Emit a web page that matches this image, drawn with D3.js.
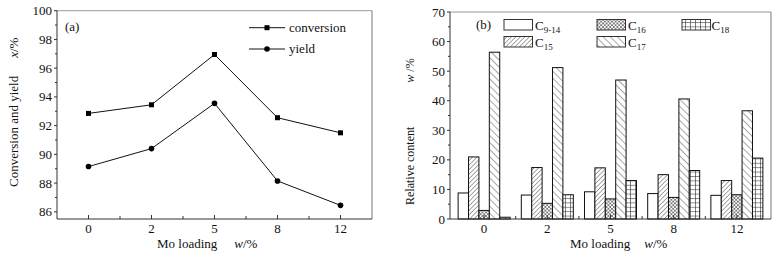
<!DOCTYPE html>
<html>
<head>
<meta charset="utf-8">
<script src="https://cdn.jsdelivr.net/npm/d3@7"></script>
<style>
  body { margin: 0; background: #fff; }
  svg text { font-family: "Liberation Serif", "Times New Roman", serif; fill: #111; }
</style>
</head>
<body>
<svg id="chart" width="777" height="260"></svg>
<script>
// panel (a) data
var loadings = ["0", "2", "5", "8", "12"];
var conversion = [92.85, 93.45, 96.95, 92.55, 91.5];
var yieldVals = [89.15, 90.4, 93.55, 88.15, 86.45];
var yTicksA = [86, 88, 90, 92, 94, 96, 98, 100];

// panel (b) data
var fractions = ["C9-14", "C15", "C16", "C17", "C18"];
var c914 = [8.8, 8.1, 9.2, 8.6, 8.0];
var c15 = [21.0, 17.4, 17.3, 15.0, 13.0];
var c16 = [2.9, 5.3, 6.8, 7.3, 8.2];
var c17 = [56.4, 51.2, 47.0, 40.6, 36.6];
var c18 = [0.6, 8.2, 13.0, 16.4, 20.6];
var yTicksB = [0, 10, 20, 30, 40, 50, 60, 70];

var svg = d3.select("#chart");
var defs = svg.append("defs");

// fill patterns for the bars
function linePattern(id, size, angle, w) {
  var p = defs.append("pattern")
    .attr("id", id)
    .attr("patternUnits", "userSpaceOnUse")
    .attr("width", size).attr("height", size)
    .attr("patternTransform", "rotate(" + angle + ")");
  p.append("rect").attr("width", size).attr("height", size).attr("fill", "#fff");
  p.append("line")
    .attr("x1", 0).attr("y1", 0).attr("x2", 0).attr("y2", size)
    .attr("stroke", "#222").attr("stroke-width", w);
}
linePattern("p15", 3.2, 45, 0.8);
linePattern("p17", 5, -45, 0.8);

var cross = defs.append("pattern")
  .attr("id", "p16")
  .attr("patternUnits", "userSpaceOnUse")
  .attr("width", 3.6).attr("height", 3.6);
cross.append("rect").attr("width", 3.6).attr("height", 3.6).attr("fill", "#fff");
cross.append("path").attr("d", "M0,0L3.6,3.6M3.6,0L0,3.6")
  .attr("stroke", "#333").attr("stroke-width", 0.6);

var grid = defs.append("pattern")
  .attr("id", "p18")
  .attr("patternUnits", "userSpaceOnUse")
  .attr("width", 5).attr("height", 4.4);
grid.append("rect").attr("width", 5).attr("height", 4.4).attr("fill", "#fff");
grid.append("path").attr("d", "M0.5,0V4.4M0,0.5H5")
  .attr("stroke", "#333").attr("stroke-width", 0.6);

var fills = {
  "C9-14": "#fff",
  "C15": "url(#p15)",
  "C16": "url(#p16)",
  "C17": "url(#p17)",
  "C18": "url(#p18)"
};

function frame(g, x0, x1, y0, y1) {
  g.append("line").attr("x1", x0).attr("x2", x1).attr("y1", y0).attr("y2", y0)
    .attr("stroke", "#999");
  g.append("line").attr("x1", x1).attr("x2", x1).attr("y1", y0).attr("y2", y1)
    .attr("stroke", "#777");
}

function axes(g, x, y, yTicks, yMinor, ox, oy) {
  var xr = x.range(), yr = y.range();
  // x axis with inward ticks
  g.append("line").attr("x1", xr[0]).attr("x2", xr[1]).attr("y1", oy).attr("y2", oy)
    .attr("stroke", "#333");
  var xt = g.append("g");
  loadings.forEach(function(l, i) {
    xt.append("line").attr("x1", x(i)).attr("x2", x(i)).attr("y1", oy).attr("y2", oy - 4)
      .attr("stroke", "#333");
    xt.append("text").attr("x", x(i)).attr("y", oy + 14)
      .attr("text-anchor", "middle").attr("font-size", 13).text(l);
    if (i < loadings.length - 1)
      xt.append("line").attr("x1", x(i + 0.5)).attr("x2", x(i + 0.5))
        .attr("y1", oy).attr("y2", oy - 3).attr("stroke", "#333");
  });
  // y axis with outward ticks
  g.append("line").attr("x1", ox).attr("x2", ox).attr("y1", yr[0]).attr("y2", yr[1])
    .attr("stroke", "#333");
  yTicks.forEach(function(t) {
    g.append("line").attr("x1", ox - 3).attr("x2", ox).attr("y1", y(t)).attr("y2", y(t))
      .attr("stroke", "#333");
    g.append("text").attr("x", ox - 5).attr("y", y(t) + 4.5)
      .attr("text-anchor", "end").attr("font-size", 13).text(t);
  });
  yMinor.forEach(function(t) {
    g.append("line").attr("x1", ox - 2).attr("x2", ox).attr("y1", y(t)).attr("y2", y(t))
      .attr("stroke", "#333");
  });
}

// ---------- panel (a)
var ga = svg.append("g");
var xA = d3.scaleLinear().domain([-0.5, 4.5]).range([57, 372]);
var yA = d3.scaleLinear().domain([85.5, 100]).range([219, 10.7]);
frame(ga, 57, 372, 10.7, 219);
axes(ga, xA, yA, yTicksA, [87, 89, 91, 93, 95, 97, 99], 57, 219);

var lineA = d3.line().x(function(d, i) { return xA(i); }).y(function(d) { return yA(d); });
ga.append("path").attr("d", lineA(conversion)).attr("fill", "none").attr("stroke", "#111");
ga.append("path").attr("d", lineA(yieldVals)).attr("fill", "none").attr("stroke", "#111");
ga.selectAll(".sq").data(conversion).enter().append("rect")
  .attr("x", function(d, i) { return xA(i) - 2.5; })
  .attr("y", function(d) { return yA(d) - 2.5; })
  .attr("width", 5).attr("height", 5).attr("fill", "#000");
ga.selectAll(".ci").data(yieldVals).enter().append("circle")
  .attr("cx", function(d, i) { return xA(i); })
  .attr("cy", function(d) { return yA(d); })
  .attr("r", 2.8).attr("fill", "#000");

ga.append("text").attr("x", 65).attr("y", 31).attr("font-size", 13).text("(a)");
// legend (a)
[["conversion", 27.7, "sq"], ["yield", 49, "ci"]].forEach(function(e) {
  ga.append("line").attr("x1", 249).attr("x2", 285).attr("y1", e[1]).attr("y2", e[1])
    .attr("stroke", "#111");
  if (e[2] == "sq")
    ga.append("rect").attr("x", 264.5).attr("y", e[1] - 2.5).attr("width", 5).attr("height", 5);
  else
    ga.append("circle").attr("cx", 267).attr("cy", e[1]).attr("r", 2.8);
  ga.append("text").attr("x", 289).attr("y", e[1] + 4).attr("font-size", 13).text(e[0]);
});

ga.append("text")
  .attr("transform", "translate(18,187) rotate(-90)")
  .attr("font-size", 13)
  .call(function(t) {
    t.append("tspan").text("Conversion and yield");
    t.append("tspan").attr("dx", 18).attr("font-style", "italic").text("x");
    t.append("tspan").text("/%");
  });
ga.append("text").attr("x", 157).attr("y", 248).attr("font-size", 13)
  .call(function(t) {
    t.append("tspan").text("Mo loading");
    t.append("tspan").attr("dx", 17).attr("font-style", "italic").text("w");
    t.append("tspan").text("/%");
  });

// ---------- panel (b)
var gb = svg.append("g");
var xB = d3.scaleLinear().domain([-0.54, 4.54]).range([450, 771]);
var yB = d3.scaleLinear().domain([0, 70]).range([219, 12]);
var sub = d3.scaleBand().domain(fractions).range([-26, 26]);
frame(gb, 450, 771, 12, 219);

var seriesB = [c914, c15, c16, c17, c18];
fractions.forEach(function(f, k) {
  gb.selectAll(".b" + k).data(seriesB[k]).enter().append("rect")
    .attr("x", function(d, i) { return xB(i) + sub(f); })
    .attr("y", function(d) { return yB(d); })
    .attr("width", sub.bandwidth())
    .attr("height", function(d) { return yB(0) - yB(d); })
    .attr("fill", fills[f])
    .attr("stroke", "#111").attr("stroke-width", 1);
});
axes(gb, xB, yB, yTicksB, [5, 15, 25, 35, 45, 55, 65], 450, 219);

gb.append("text").attr("x", 476).attr("y", 29).attr("font-size", 13).text("(b)");
// legend (b)
var legB = [
  ["C", "9-14", 504, 19.5, "C9-14"],
  ["C", "15", 504, 36.5, "C15"],
  ["C", "16", 597, 19.5, "C16"],
  ["C", "17", 597, 36.5, "C17"],
  ["C", "18", 682, 19.5, "C18"]
];
legB.forEach(function(e) {
  gb.append("rect").attr("x", e[2]).attr("y", e[3]).attr("width", 28.5).attr("height", 10.5)
    .attr("fill", fills[e[4]]).attr("stroke", "#333");
  var tx = e[4] == "C18" ? e[2] + 29.5 : e[2] + 31;
  var t = gb.append("text").attr("x", tx).attr("y", e[3] + 10).attr("font-size", 13);
  t.append("tspan").text(e[0]);
  t.append("tspan").attr("dy", 3.5).attr("font-size", 9).text(e[1]);
});

gb.append("text")
  .attr("transform", "translate(414,205) rotate(-90)")
  .attr("font-size", 12)
  .call(function(t) {
    t.append("tspan").text("Relative content");
    t.append("tspan").attr("dx", 44).attr("font-style", "italic").text("w");
    t.append("tspan").text(" /%");
  });
gb.append("text").attr("x", 570).attr("y", 248).attr("font-size", 13)
  .call(function(t) {
    t.append("tspan").text("Mo loading");
    t.append("tspan").attr("dx", 14).attr("font-style", "italic").text("w");
    t.append("tspan").text("/%");
  });
</script>
</body>
</html>
